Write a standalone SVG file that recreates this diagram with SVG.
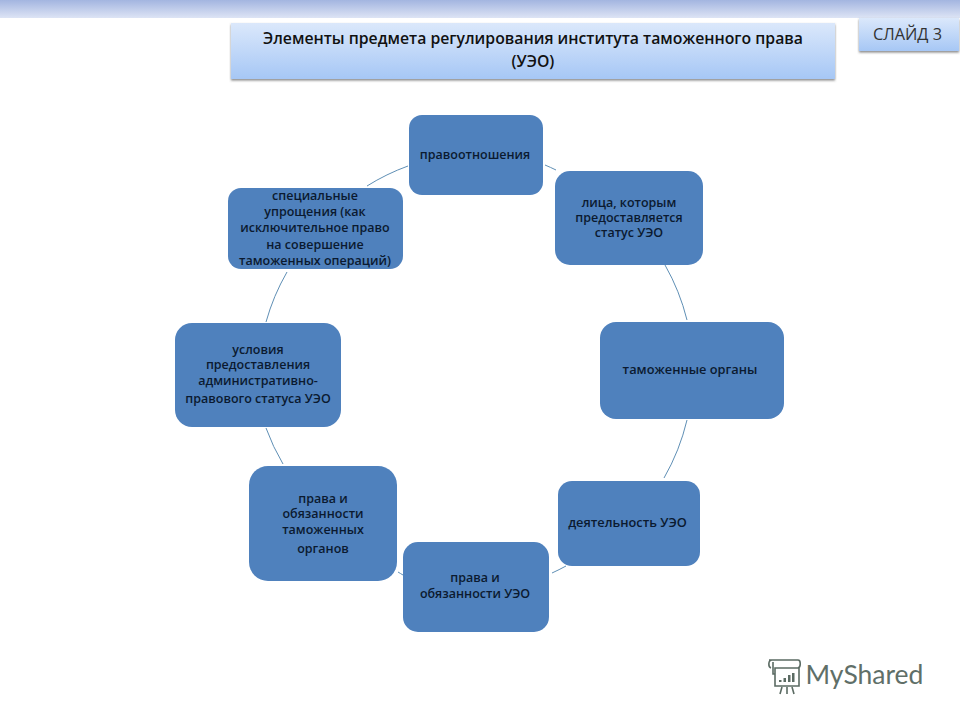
<svg xmlns="http://www.w3.org/2000/svg" width="960" height="720" viewBox="0 0 960 720">
<style>
text{font-family:"Open Sans","Noto Sans","Liberation Sans",sans-serif;text-anchor:middle}
.n{fill:#4f81bd}
.t{font-size:12.5px;font-weight:600;fill:#0b1a30}
.c{fill:none;stroke:#5f8fb5;stroke-width:1}
.h{font-size:15.8px;font-weight:600;fill:#111}
.l{fill:none;stroke:#5b6b63;stroke-width:1.6}
</style>
<defs>
<linearGradient id="top" x1="0" y1="0" x2="0" y2="1"><stop offset="0" stop-color="#a3b5e0"/><stop offset="1" stop-color="#dde4f5"/></linearGradient>
<linearGradient id="box" x1="0" y1="0" x2="0" y2="1"><stop offset="0" stop-color="#dbe8fb"/><stop offset="1" stop-color="#a6c7f5"/></linearGradient>
<filter id="sh" x="-5%" y="-20%" width="110%" height="150%"><feDropShadow dx="0" dy="1.5" stdDeviation="1.2" flood-color="#555" flood-opacity=".7"/></filter>
</defs>
<rect width="960" height="720" fill="#fff"/>
<rect width="960" height="18" fill="url(#top)"/>
<g id="title"><rect x="231" y="23" width="604" height="56" fill="url(#box)" filter="url(#sh)"/>
<text class="h" x="533" y="44">Элементы предмета регулирования института таможенного права</text>
<text class="h" x="533" y="67">(УЭО)</text></g>
<g id="slide"><rect x="859" y="18" width="100" height="33" fill="url(#box)" filter="url(#sh)"/>
<text x="907.500" y="40" font-size="16.300" fill="#333">СЛАЙД 3</text></g>
<g id="connectors">
<path class="c" d="M545 165A216 216 0 0 1 556 170"/>
<path class="c" d="M665 265A216 216 0 0 1 687 320"/>
<path class="c" d="M687 420A216 216 0 0 1 664 478"/>
<path class="c" d="M566 566A216 216 0 0 1 552 573"/>
<path class="c" d="M403 575A216 216 0 0 1 398 572"/>
<path class="c" d="M283 464A216 216 0 0 1 266 428"/>
<path class="c" d="M266 322A216 216 0 0 1 287 272"/>
<path class="c" d="M367 186A216 216 0 0 1 408 166"/>
</g>
<g id="n1"><rect class="n" x="409" y="115" width="134" height="80" rx="13"/><text class="t" x="475" y="159">правоотношения</text></g>
<g id="n2"><rect class="n" x="555" y="171" width="148" height="94" rx="15"/><text class="t" x="629" y="207">лица, которым</text><text class="t" x="629" y="222">предоставляется</text><text class="t" x="629" y="237">статус УЭО</text></g>
<g id="n3"><rect class="n" x="600" y="322" width="184" height="97" rx="16"/><text class="t" x="690" y="374" font-size="12.800" style="font-size:12.800px">таможенные органы</text></g>
<g id="n4"><rect class="n" x="558" y="481" width="142" height="85" rx="14"/><text class="t" x="627.500" y="527" style="font-size:12.800px">деятельность УЭО</text></g>
<g id="n5"><rect class="n" x="403" y="542" width="146" height="90" rx="15"/><text class="t" x="475" y="582">права и</text><text class="t" x="475" y="598">обязанности УЭО</text></g>
<g id="n6"><rect class="n" x="249" y="466" width="148" height="115" rx="19"/><text class="t" x="323" y="503">права и</text><text class="t" x="323" y="518">обязанности</text><text class="t" x="323" y="534">таможенных</text><text class="t" x="323" y="553">органов</text></g>
<g id="n7"><rect class="n" x="175" y="323" width="166" height="104" rx="17"/><text class="t" x="258" y="354">условия</text><text class="t" x="258" y="369">предоставления</text><text class="t" x="258" y="385">административно-</text><text class="t" x="258" y="403">правового статуса УЭО</text></g>
<g id="n8"><rect class="n" x="228" y="188" width="175" height="81" rx="13"/><text class="t" x="315" y="200">специальные</text><text class="t" x="315" y="216">упрощения (как</text><text class="t" x="315" y="232">исключительное право</text><text class="t" x="315" y="249">на совершение</text><text class="t" x="315" y="265">таможенных операций)</text></g>
<g id="logo">
<path class="l" d="M773 662V674H775M769 660H798M772 660C768 660 768 667 771 668M775 668H799V686H775ZM798 660C801 660 801 667 798 668"/>
<path d="M779 680h2.500v2h-2.500zM783.500 678h2.500v4h-2.500zM788 675h2.500v7H788zM792 673h2.500v9H792z" fill="#5b6b63"/>
<path class="l" d="M782 687L780 694M787 687V694M792 687L794 694"/>
<text x="864.500" y="684" font-size="26.500" fill="#5f6f68" style="font-family:'Lato','Noto Sans',sans-serif">MyShared</text>
</g>
</svg>
